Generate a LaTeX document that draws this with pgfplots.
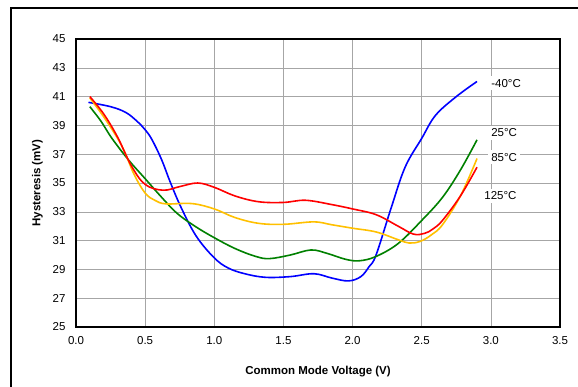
\documentclass[border=0pt]{standalone}
\usepackage{fontspec}
\setmainfont{Liberation Sans}
\usepackage{pgfplots}
\pgfplotsset{compat=1.18}
\definecolor{cblue}{HTML}{0000FF}
\definecolor{cred}{HTML}{FF0000}
\definecolor{corange}{HTML}{FFC000}
\definecolor{cgreen}{HTML}{008000}
\definecolor{cgrid}{HTML}{A6A6A6}
\begin{document}
\begin{tikzpicture}[x=1pt,y=1pt]
\begin{axis}[
  scale only axis, width=484pt, height=288pt,
  xmin=0, xmax=3.5, ymin=25, ymax=45,
  xtick={0,0.5,...,3.5}, ytick={25,27,...,45},
  xticklabel style={/pgf/number format/fixed,/pgf/number format/fixed zerofill,/pgf/number format/precision=1, yshift=-6pt},
  yticklabel style={xshift=-7pt},
  /pgf/number format/assume math mode=true,
  tick label style={font=\fontsize{11.5}{13}\selectfont},
  grid=major, major grid style={cgrid, line width=0.6pt},
  tick style={draw=none},
  axis line style={line width=1.5pt},
  xlabel={\bfseries Common Mode Voltage (V)},
  ylabel={\bfseries Hysteresis (mV)},
  label style={font=\fontsize{11.5}{13}\selectfont\bfseries},
  xlabel style={yshift=-15pt},
  ylabel style={yshift=3pt},
  every axis plot/.append style={line width=1.6pt, smooth, no markers, tension=0.6},
  clip=false,
]
\addplot[cblue] coordinates {
 (0.09,40.6) (0.25,40.3) (0.36,39.9) (0.44,39.3) (0.5,38.7) (0.55,38.0)
 (0.62,36.6) (0.68,35.1) (0.76,33.3) (0.87,31.3) (1.0,29.8) (1.1,29.1)
 (1.22,28.7) (1.37,28.45) (1.55,28.5) (1.72,28.7) (1.85,28.4) (1.97,28.2)
 (2.06,28.5) (2.12,29.2) (2.17,30.0) (2.28,33.3) (2.38,36.1) (2.5,38.1)
 (2.6,39.7) (2.75,41.0) (2.9,42.05)
};
\addplot[cgreen] coordinates {
 (0.1,40.3) (0.18,39.3) (0.26,38.1) (0.38,36.6) (0.5,35.3) (0.62,34.0)
 (0.73,32.9) (0.86,32.0) (1.0,31.2) (1.15,30.45) (1.3,29.9) (1.4,29.75)
 (1.55,30.0) (1.7,30.35) (1.82,30.1) (1.95,29.7) (2.05,29.6) (2.17,29.9)
 (2.33,30.8) (2.5,32.4) (2.65,34.0) (2.78,35.9) (2.9,38.0)
};
\addplot[corange] coordinates {
 (0.1,40.9) (0.2,39.6) (0.33,37.6) (0.42,35.6) (0.5,34.3) (0.57,33.8)
 (0.65,33.55) (0.84,33.57) (1.0,33.2) (1.15,32.6) (1.32,32.2) (1.5,32.13)
 (1.72,32.3) (1.85,32.1) (2.0,31.86) (2.17,31.6) (2.33,31.06) (2.41,30.83)
 (2.49,30.95) (2.57,31.4) (2.65,32.1) (2.78,34.1) (2.9,36.7)
};
\addplot[cred] coordinates {
 (0.1,41.0) (0.2,39.8) (0.3,38.2) (0.4,36.2) (0.5,34.9) (0.63,34.5)
 (0.75,34.75) (0.88,35.0) (1.0,34.7) (1.15,34.1) (1.32,33.7) (1.5,33.65)
 (1.66,33.8) (1.85,33.5) (2.0,33.2) (2.17,32.8) (2.33,32.0) (2.44,31.45)
 (2.52,31.5) (2.58,31.8) (2.65,32.4) (2.78,34.1) (2.9,36.1)
};
\begin{scope}[every node/.style={fill=white, inner sep=3pt, anchor=west, font=\fontsize{11.5}{13}\selectfont}]
\node at (axis cs:2.98,41.94) {-40°C};
\node at (axis cs:2.98,38.47) {25°C};
\node at (axis cs:2.98,36.8) {85°C};
\node at (axis cs:2.93,34.1) {125°C};
\end{scope}
\coordinate (SW) at (rel axis cs:0,0);
\end{axis}
\begin{scope}[shift={(SW)}]
\draw[line width=1.5pt] (-65,-80) -- (-65,319) -- (560,319);
\end{scope}
\pgfresetboundingbox
\path[use as bounding box] (SW) ++(-76,-59) rectangle ++(578,386);
\end{tikzpicture}
\end{document}
